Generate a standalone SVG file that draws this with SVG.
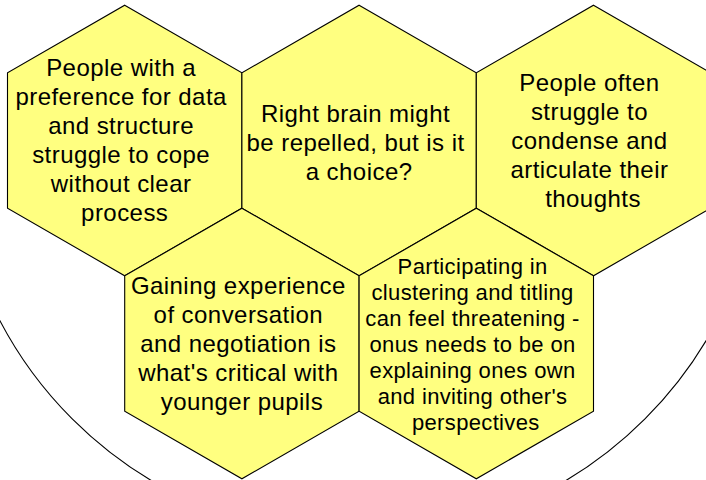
<svg xmlns="http://www.w3.org/2000/svg" xmlns:xlink="http://www.w3.org/1999/xlink" width="706" height="480" viewBox="0 0 706 480">
  <style>
    .hex { fill: #FFFF80; stroke: #000000; stroke-width: 1.1; stroke-linejoin: miter; }
    .ring { fill: none; stroke: #000000; stroke-width: 1.1; }
    .t { font-family: "Liberation Sans", Arial, sans-serif; font-size: 24px; letter-spacing: 0.45px; fill: #000000; text-anchor: middle; }
    .s { font-family: "Liberation Sans", Arial, sans-serif; font-size: 22px; letter-spacing: 0.35px; fill: #000000; text-anchor: middle; }
  </style>
  <defs>
    <polygon id="hexShape" points="0,-135.3 117.2,-67.65 117.2,67.65 0,135.3 -117.2,67.65 -117.2,-67.65"/>
  </defs>
  <rect width="706" height="480" fill="#FFFFFF"/>
  <g id="connectors">
    <circle class="ring" cx="358.6" cy="132.5" r="405"/>
  </g>
  <g id="hex1">
    <use xlink:href="#hexShape" href="#hexShape" class="hex" transform="translate(124.7,140.5)"/>
    <text class="t" x="124.7">
      <tspan x="124.7" y="76">People with a</tspan>
      <tspan x="124.7" y="105">preference for data</tspan>
      <tspan x="124.7" y="134">and structure</tspan>
      <tspan x="124.7" y="163">struggle to cope</tspan>
      <tspan x="124.7" y="192">without clear</tspan>
      <tspan x="124.7" y="221">process</tspan>
    </text>
  </g>
  <g id="hex2">
    <use xlink:href="#hexShape" href="#hexShape" class="hex" transform="translate(359.1,140.5)"/>
    <text class="t">
      <tspan x="359.1" y="121.5">Right brain might</tspan>
      <tspan x="359.1" y="150.5">be repelled, but is it</tspan>
      <tspan x="359.1" y="179.5">a choice?</tspan>
    </text>
  </g>
  <g id="hex3">
    <use xlink:href="#hexShape" href="#hexShape" class="hex" transform="translate(593.5,140.5)"/>
    <text class="t">
      <tspan x="593" y="90.5">People often</tspan>
      <tspan x="593" y="119.5">struggle to</tspan>
      <tspan x="593" y="148.5">condense and</tspan>
      <tspan x="593" y="177.5">articulate their</tspan>
      <tspan x="593" y="206.5">thoughts</tspan>
    </text>
  </g>
  <g id="hex4">
    <use xlink:href="#hexShape" href="#hexShape" class="hex" transform="translate(241.9,343.5)"/>
    <text class="t">
      <tspan x="241.9" y="294.3">Gaining experience</tspan>
      <tspan x="241.9" y="323.3">of conversation</tspan>
      <tspan x="241.9" y="352.3">and negotiation is</tspan>
      <tspan x="241.9" y="381.3">what's critical with</tspan>
      <tspan x="241.9" y="410.3">younger pupils</tspan>
    </text>
  </g>
  <g id="hex5">
    <use xlink:href="#hexShape" href="#hexShape" class="hex" transform="translate(476.3,343.5)"/>
    <text class="s">
      <tspan x="475.8" y="273.5">Participating in</tspan>
      <tspan x="475.8" y="299.5">clustering and titling</tspan>
      <tspan x="475.8" y="325.5">can feel threatening -</tspan>
      <tspan x="475.8" y="351.5">onus needs to be on</tspan>
      <tspan x="475.8" y="377.5">explaining ones own</tspan>
      <tspan x="475.8" y="403.5">and inviting other's</tspan>
      <tspan x="475.8" y="429.5">perspectives</tspan>
    </text>
  </g>
</svg>
